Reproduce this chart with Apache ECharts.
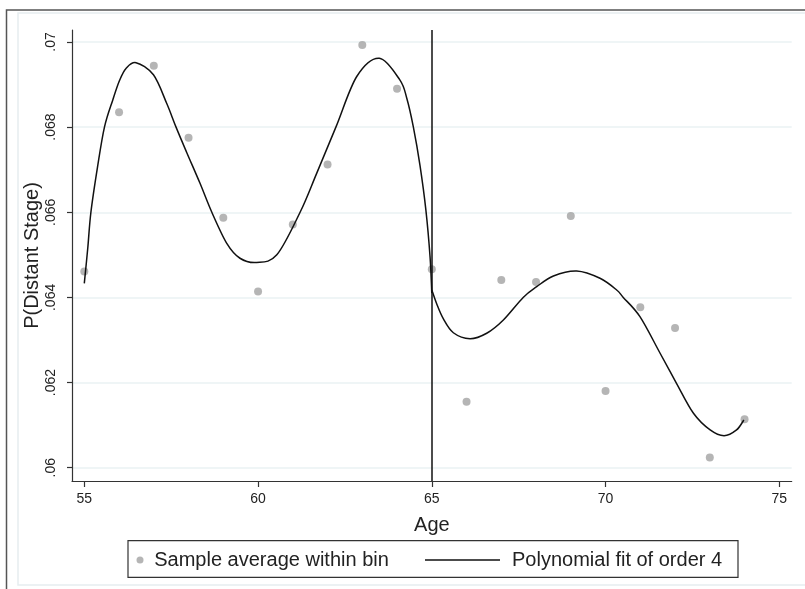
<!DOCTYPE html>
<html>
<head>
<meta charset="utf-8">
<script src="https://cdn.jsdelivr.net/npm/echarts@6/dist/echarts.min.js"></script>
<style>html,body{margin:0;padding:0;background:#fff}#c{width:805px;height:589px}</style>
</head>
<body>
<div id="c"></div>
<script>
// Bin averages
const binAges = [55,56,57,58,59,60,61,62,63,64,65,66,67,68,69,70,71,72,73,74];
const binMeans = [0.06461,0.06835,0.06944,0.06775,0.06587,0.06414,0.06571,0.06712,0.06993,0.06890,
                  0.06466,0.06155,0.06441,0.06436,0.06591,0.06180,0.06377,0.06328,0.06024,0.06114];
// Polynomial fit, left of cutoff
const fitLeftAges = [55.0,55.10,55.19,55.38,55.58,55.82,56.01,56.20,56.49,56.99,57.37,57.64,57.95,58.33,58.67,59.10,59.48,59.96,60.54,61.21,61.69,62.24,62.84,63.49,64.08,64.28,64.47,64.66,64.83,64.95,65.0];
const fitLeftVals = [0.06433,0.06516,0.06600,0.06706,0.06800,0.06864,0.06909,0.06938,0.069515,0.06923,0.06856,0.06800,0.06740,0.06668,0.06600,0.06527,0.06492,0.06482,0.06500,0.06600,0.06692,0.06800,0.06919,0.06962,0.06911,0.06868,0.06800,0.06710,0.06605,0.06495,0.06410];
// Polynomial fit, right of cutoff
const fitRightAges = [65.0,65.14,65.33,65.62,66.10,66.58,67.06,67.63,68.02,68.50,69.17,69.84,70.32,70.51,70.99,71.57,72.03,72.53,73.01,73.41,73.77,73.98];
const fitRightVals = [0.064175,0.06385,0.06350,0.06317,0.063031,0.063158,0.06347,0.06400,0.064252,0.064504,0.064621,0.06445,0.064175,0.06400,0.063548,0.062688,0.06200,0.061278,0.060886,0.060752,0.060886,0.061121];
// Axes
const xTicks = [55,60,65,70,75];
const yTicks = [0.06,0.062,0.064,0.066,0.068,0.07];
const yTickLabels = ['.06','.062','.064','.066','.068','.07'];
const cutoff = 65;

const FONT = 'Liberation Sans, Arial, Helvetica, sans-serif';
const zip = (a,b) => a.map((v,i)=>[v,b[i]]);

// Smooth curve through the read points (Catmull-Rom rendered as cubic Bezier), mapped by the axes
function curveRenderer(points){
  return function(params, api){
    if (params.dataIndex !== 0) return null;
    const p = points.map(d => api.coord(d));
    let d = 'M' + p[0][0] + ' ' + p[0][1];
    for (let i = 0; i < p.length - 1; i++){
      const p0 = p[Math.max(i-1,0)], p1 = p[i], p2 = p[i+1], p3 = p[Math.min(i+2,p.length-1)];
      const c1x = p1[0] + (p2[0]-p0[0])/6, c1y = p1[1] + (p2[1]-p0[1])/6;
      const c2x = p2[0] - (p3[0]-p1[0])/6, c2y = p2[1] - (p3[1]-p1[1])/6;
      d += ' C' + c1x + ' ' + c1y + ' ' + c2x + ' ' + c2y + ' ' + p2[0] + ' ' + p2[1];
    }
    return {type:'path', shape:{pathData:d}, style:{fill:'none', stroke:'#111', lineWidth:1.5}, silent:true};
  };
}
const leftPts = zip(fitLeftAges, fitLeftVals);
const rightPts = zip(fitRightAges, fitRightVals);

const chart = echarts.init(document.getElementById('c'), null, {renderer:'canvas'});
chart.setOption({
  animation:false,
  backgroundColor:'#fff',
  textStyle:{fontFamily:FONT},
  grid:{left:72, right:13.3, top:30, bottom:108, containLabel:false},
  xAxis:{
    type:'value', min:54.646, max:75.357,
    name:'Age', nameLocation:'middle', nameGap:34, nameMoveOverlap:false,
    nameTextStyle:{fontSize:20, color:'#222', fontFamily:FONT},
    axisLine:{show:true, onZero:false, lineStyle:{color:'#333', width:1.2}},
    axisTick:{show:true, length:6, customValues:xTicks, lineStyle:{color:'#333', width:1.2}},
    axisLabel:{customValues:xTicks, fontSize:14, color:'#222', margin:11, fontFamily:FONT},
    splitLine:{show:false}
  },
  yAxis:{
    type:'value', min:0.059687, max:0.070282,
    name:'P(Distant Stage)', nameLocation:'middle', nameGap:30, nameRotate:90, nameMoveOverlap:false,
    nameTextStyle:{fontSize:20, color:'#222', fontFamily:FONT},
    axisLine:{show:true, onZero:false, lineStyle:{color:'#333', width:1.2}},
    axisTick:{show:true, length:5, customValues:yTicks, lineStyle:{color:'#333', width:1.2}},
    axisLabel:{customValues:yTicks, rotate:90, fontSize:14, color:'#222', margin:14, fontFamily:FONT,
      formatter:(v)=>{ for(let i=0;i<yTicks.length;i++){ if(Math.abs(v-yTicks[i])<1e-9) return yTickLabels[i]; } return ''; }},
    splitLine:{show:true, lineStyle:{color:'#eaf2f3', width:1.5}}
  },
  legend:[
    {data:['Sample average within bin'], left:136.5, top:550, padding:0, itemWidth:18.5, itemHeight:7,
     selectedMode:false, textStyle:{fontSize:20, color:'#222', fontFamily:FONT}},
    {data:[{name:'Polynomial fit of order 4', icon:'rect', itemStyle:{color:'#111'}}], left:425, top:550, padding:0, itemWidth:75, itemHeight:1.5,
     selectedMode:false, textStyle:{fontSize:20, color:'#222', fontFamily:FONT, padding:[0,0,0,7]}}
  ],
  graphic:[
    {type:'rect', silent:true, z:-10, shape:{x:18, y:13, width:820, height:572}, style:{fill:null, stroke:'#e6edf0', lineWidth:1.5}},
    {type:'rect', silent:true, z:-9, shape:{x:6.5, y:10, width:900, height:700}, style:{fill:null, stroke:'#555', lineWidth:1.5}},
    {type:'rect', silent:true, z:-8, shape:{x:128, y:540.7, width:610, height:36.6}, style:{fill:null, stroke:'#333', lineWidth:1.2}}
  ],
  series:[
    {name:'Sample average within bin', type:'scatter', symbol:'circle', symbolSize:8,
     itemStyle:{color:'#a3a3a3'}, data:zip(binAges, binMeans), z:2,
     markLine:{silent:true, symbol:['none','none'], label:{show:false}, z:4,
       lineStyle:{color:'#111', width:1.5, type:'solid'}, data:[{xAxis:cutoff}]}},
    {name:'Polynomial fit of order 4', type:'custom', z:3, itemStyle:{color:'#111'},
     encode:{x:0, y:1}, data:leftPts, renderItem:curveRenderer(leftPts)},
    {name:'Polynomial fit of order 4', type:'custom', z:3, itemStyle:{color:'#111'},
     encode:{x:0, y:1}, data:rightPts, renderItem:curveRenderer(rightPts)}
  ]
});
</script>
</body>
</html>
